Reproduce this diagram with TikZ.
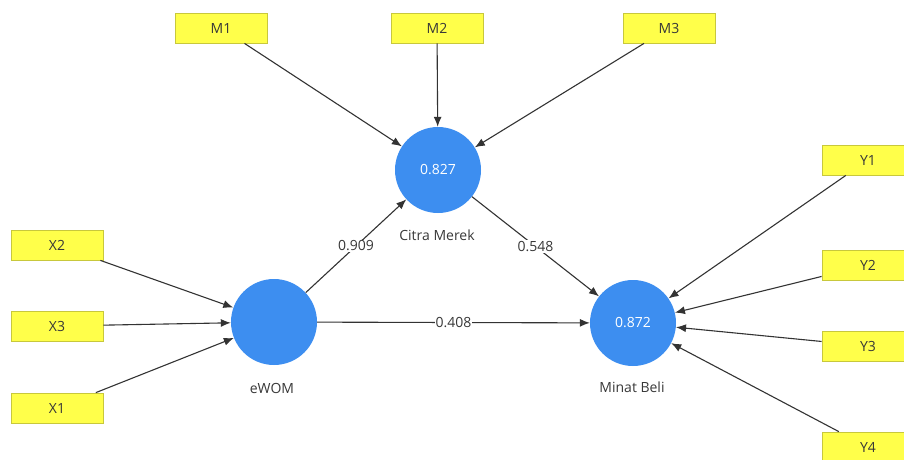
\documentclass[tikz,border=0pt]{standalone}
\usepackage{fontspec}
\setmainfont{Open Sans}
\usetikzlibrary{arrows.meta}
\definecolor{lvblue}{HTML}{3D8EF0}
\definecolor{indyellow}{HTML}{FFFF4A}
\definecolor{indborder}{HTML}{C8C83C}
\definecolor{linegray}{HTML}{333333}
\definecolor{textgray}{HTML}{383838}
\tikzset{
  indicator/.style={rectangle, fill=indyellow, draw=indborder, line width=0.8pt,
    minimum width=92pt, minimum height=30pt, inner sep=0pt,
    font=\fontsize{14}{16}\selectfont, text=textgray},
  latent/.style={circle, fill=lvblue, minimum size=86pt, inner sep=0pt,
    font=\fontsize{14}{16}\selectfont, text=white},
  lvname/.style={font=\fontsize{14}{16}\selectfont, text=textgray, inner sep=1pt},
  conn/.style={draw=linegray, line width=1.1pt, -{Latex[length=10pt,width=8pt]}},
  coef/.style={fill=white, font=\fontsize{14}{16}\selectfont, text=textgray, inner sep=1pt}
}
\begin{document}
\begin{tikzpicture}[x=1pt,y=-1pt]
\useasboundingbox (0,0) rectangle (904,459);
\clip (0,0) rectangle (904,459);
% latent variables
\node[latent] (cm) at (438,170) {0.827};
\node[latent] (ew) at (274,322) {};
\node[latent] (mb) at (633,323) {0.872};
\node[lvname] (cmname) at (437,235) {Citra Merek};
\node[lvname] (ewname) at (272,388) {eWOM};
\node[lvname] (mbname) at (632,387) {Minat Beli};
% indicators
\node[indicator] (m1) at (221,28) {M1};
\node[indicator] (m2) at (437,28) {M2};
\node[indicator] (m3) at (669,28) {M3};
\node[indicator] (x2) at (57,245) {X2};
\node[indicator] (x3) at (57,326) {X3};
\node[indicator] (x1) at (57,408) {X1};
\node[indicator] (y1) at (868,160) {Y1};
\node[indicator] (y2) at (868,265) {Y2};
\node[indicator] (y3) at (868,346) {Y3};
\node[indicator] (y4) at (868,447) {Y4};
% outer loadings
\draw[conn] (m1) -- (cm);
\draw[conn] (m2) -- (cm);
\draw[conn] (m3) -- (cm);
\draw[conn] (x2) -- (ew);
\draw[conn] (x3) -- (ew);
\draw[conn] (x1) -- (ew);
\draw[conn] (y1) -- (mb);
\draw[conn] (y2) -- (mb);
\draw[conn] (y3) -- (mb);
\draw[conn] (y4) -- (mb);
% structural paths
\draw[conn] (ew) -- node[coef] (c1) {0.909} (cm);
\draw[conn] (cm) -- node[coef] (c2) {0.548} (mb);
\draw[conn] (ew) -- node[coef] (c3) {0.408} (mb);
\end{tikzpicture}
\end{document}
